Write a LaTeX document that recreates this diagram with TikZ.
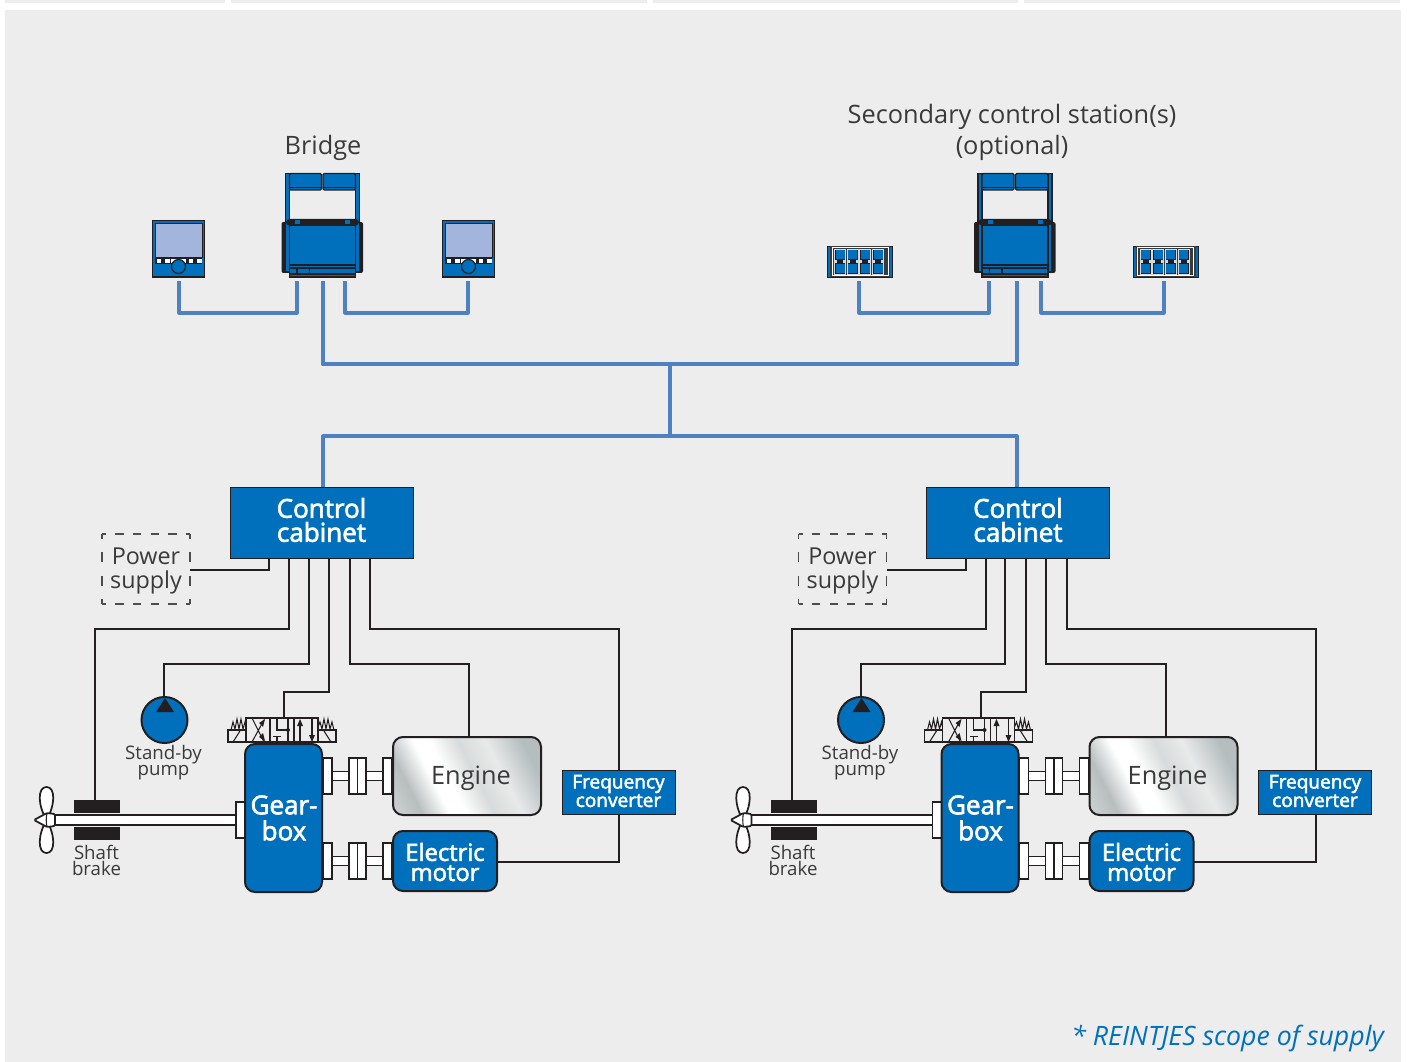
\documentclass[tikz,border=0pt]{standalone}
\usepackage{fontspec}
\setmainfont{Open Sans}
\newfontfamily\semib[FakeBold=2.5]{Open Sans}
\definecolor{panel}{HTML}{EDEDED}
\definecolor{rblue}{HTML}{0070BC}
\definecolor{lineblue}{HTML}{4F81C2}
\definecolor{ink}{HTML}{231F20}
\definecolor{txt}{HTML}{3A3A3C}
\definecolor{screen}{HTML}{A3B5DC}
\definecolor{mA}{HTML}{CDD1D1}
\definecolor{mB}{HTML}{B8BEBE}
\definecolor{mC}{HTML}{D8DBDB}
\definecolor{mD}{HTML}{E8EAEA}
\definecolor{mE}{HTML}{B5BDBE}
\pgfdeclarehorizontalshading{metal}{100bp}{
 color(0bp)=(mB);
 color(17bp)=(mA);
 color(27bp)=(mB);
 color(37bp)=(white);
 color(43bp)=(white);
 color(53bp)=(mC);
 color(63bp)=(mD);
 color(76bp)=(mE);
 color(100bp)=(mE)}
\tikzset{
 x=0.75pt,y=-0.75pt,
 wire/.style={draw=ink,line width=1.5pt,line join=miter},
 bus/.style={draw=lineblue,line width=3pt,line join=round},
 thinbus/.style={draw=lineblue,line width=2.3pt,line join=round},
 pxbox/.style={rectangle,inner sep=0pt,outer sep=0pt},
 flat/.style={pxbox,fill=rblue,draw=ink,line width=0.6pt},
 solid blue/.style={pxbox,fill=rblue,draw=ink,line width=1.5pt,rounded corners=7.5pt},
 part/.style={pxbox,fill=white,draw=ink,line width=1.2pt},
 lab/.style={text=txt,align=center,inner sep=0pt},
 wlab/.style={text=white,align=center,inner sep=0pt},
 bigwhite/.style={font=\fontsize{19.5}{18}\selectfont\semib},
 gearwhite/.style={font=\fontsize{19.5}{19.5}\selectfont\semib},
 motwhite/.style={font=\fontsize{17.8}{15}\selectfont\semib},
 midwhite/.style={font=\fontsize{14.3}{12}\selectfont\semib},
 smalllab/.style={font=\fontsize{14}{12}\selectfont},
 midlab/.style={font=\fontsize{17.5}{18}\selectfont},
 biglab/.style={font=\fontsize{19}{23.2}\selectfont},
 dev/.style={fill=rblue,draw=ink,line width=0.9pt},
 hdash/.style={draw=ink!80,line width=0.9pt,dash pattern=on 6.2pt off 7pt,dash phase=3.1pt},
 vdash/.style={draw=ink!80,line width=0.9pt,dash pattern=on 7.5pt off 10pt,dash phase=3.75pt},
}
% #1 style, #2 name, #3 x1, #4 y1, #5 x2, #6 y2, #7 text
\newcommand{\pxnode}[7]{%
 \node[#1,minimum width={(#5-#3)*0.75pt},minimum height={(#6-#4)*0.75pt}] (#2) at ({(#3+#5)/2},{(#4+#6)/2}) {#7};}
\newcommand{\rct}[5]{\path[#1] (#2,#3) rectangle (#4,#5);}

\newcommand{\coupling}[1]{% #1 = centre y
 \begin{scope}[shift={(0,#1)}]
 \rct{part}{332}{-4.5}{349}{4.5}
 \rct{part}{366}{-4.5}{383}{4.5}
 \rct{part}{323}{-18}{332}{18}
 \rct{part}{349}{-18}{357.5}{18}
 \rct{part}{357.5}{-18}{366}{18}
 \rct{part}{383}{-18}{392}{18}
 \end{scope}}

\newcommand{\spool}{%
 \begin{scope}[line width=0.8pt,draw=ink]
 \draw (246,718) rectangle (318,742);
 \draw (270,718) -- (270,742) (294,718) -- (294,742);
 \draw (228,730) rectangle (246,742);
 \draw (318,730) rectangle (336,742);
 \draw (231,730) -- (233,722) -- (235,729) -- (237,719) -- (239,729) -- (241,719) -- (243,729) -- (245,722) -- (246,727);
 \draw (318,727) -- (320,722) -- (322,729) -- (324,719) -- (326,729) -- (328,719) -- (330,729) -- (332,722) -- (334,730);
 \draw (233,742) -- (240,731);
 \draw (324,731) -- (331,742);
 \draw (252,718) -- (264,742) (264,720) -- (252,742);
 \fill[ink] (265,719) -- (259,723) -- (263,727) -- cycle;
 \fill[ink] (265,741) -- (259,737) -- (263,733) -- cycle;
 \draw (277,718) -- (277,730) -- (288,730) (288,718) -- (288,742);
 \fill[ink] (288,730) circle (2);
 \draw (277,742) -- (277,736.5) (273,736.5) -- (281,736.5);
 \draw (300,742) -- (300,724);
 \fill[ink] (300,719) -- (297,726) -- (303,726) -- cycle;
 \draw (312,718) -- (312,736);
 \fill[ink] (312,742) -- (309,735) -- (315,735) -- cycle;
 \end{scope}}

\newcommand{\driveunit}[2]{% #1 prefix, #2 x shift
 \begin{scope}[shift={(#2,0)}]
 \pxnode{flat}{#1cab}{230}{487}{413}{558}{}
 \node[wlab,bigwhite] (#1cablab) at (321.5,520) {Control\\cabinet};
 \pxnode{pxbox}{#1psu}{102}{534}{190}{604}{}
 \node[lab,midlab] (#1psulab) at (146,571) {Power\\supply};
 \draw[hdash] (#1psu.north west) -- (#1psu.north east);
 \draw[hdash] (#1psu.south west) -- (#1psu.south east);
 \draw[vdash] (#1psu.north west) -- (#1psu.south west);
 \draw[vdash] (#1psu.north east) -- (#1psu.south east);
 \node[circle,minimum size={46*0.75pt},inner sep=0pt,outer sep=0pt,fill=rblue,draw=ink,line width=1.5pt] (#1pump) at (164.5,720) {};
 \fill[ink] (165,698) -- (174,712) -- (156,712) -- cycle;
 \node[lab,smalllab] (#1pumplab) at (163.5,762.5) {Stand-by\\pump};
 % shaft
 \pxnode{part}{#1shaft}{55}{815}{236}{825}{}
 \pxnode{pxbox,fill=ink}{#1brakeA}{74}{800}{120}{813}{}
 \pxnode{pxbox,fill=ink}{#1brakeB}{74}{827}{120}{840}{}
 \node[lab,smalllab] (#1brakelab) at (96.5,860) {Shaft\\brake};
 % propeller
 \path[fill=white,draw=ink,line width=1.3pt] (46.5,820) .. controls (38,806) and (37,787) .. (46.5,787) .. controls (56,787) and (55,806) .. (46.5,820) .. controls (38,834) and (37,853) .. (46.5,853) .. controls (56,853) and (55,834) .. (46.5,820) -- cycle;
 \path[fill=white,draw=ink,line width=1.3pt,rounded corners=1pt] (34,820) -- (47,813) -- (55,814) -- (55,826) -- (47,827) -- cycle;
 \draw[ink,line width=0.8pt] (47,813) .. controls (46,818) and (46,822) .. (47,827);
 % gearbox
 \rct{part}{236}{802}{245}{838}
 \coupling{776}
 \coupling{861}
 \pxnode{solid blue}{#1gear}{245}{744}{322}{892}{}
 \node[wlab,gearwhite] (#1gearlab) at (284,818) {Gear-\\box};
 \pxnode{pxbox,draw=ink,line width=1.5pt,rounded corners=7.5pt,shading=metal,shading angle=27}{#1eng}{393}{737}{541}{815}{}
 \node[lab,font=\fontsize{19}{23}\selectfont] (#1englab) at (471,778) {Engine};
 \pxnode{solid blue}{#1mot}{393}{831}{497}{891}{}
 \node[wlab,motwhite] (#1motlab) at (445,862) {Electric\\motor};
 \pxnode{flat}{#1frq}{562}{770}{675}{814}{}
 \node[wlab,midwhite] (#1frqlab) at (618.5,791) {Frequency\\converter};
 \pxnode{pxbox}{#1vlv}{246}{718}{318}{742}{}
 \spool
 % wiring
 \coordinate (#1t0) at (269,558);
 \coordinate (#1t1) at (289,558);
 \coordinate (#1t2) at (308.5,558);
 \coordinate (#1t3) at (329,558);
 \coordinate (#1t4) at (349.5,558);
 \coordinate (#1t5) at (370,558);
 \coordinate (#1engtop) at (469,737);
 \coordinate (#1frqtop) at (619,770);
 \coordinate (#1frqbot) at (619,814);
 \coordinate (#1psuend) at (190,570);
 \coordinate (#1motend) at (497,862);
 \coordinate (#1pumptop) at (164,697);
 \coordinate (#1vlvtop) at (284,718);
 \coordinate (#1braketop) at (95,800);
 \draw[wire] (#1t0) |- (#1psuend);
 \draw[wire] (#1t1) -- ++(0,70.5) -| (#1braketop);
 \draw[wire] (#1t2) -- ++(0,105.5) -| (#1pumptop);
 \draw[wire] (#1t3) -- ++(0,133.5) -| (#1vlvtop);
 \draw[wire] (#1t4) -- ++(0,105.5) -| (#1engtop);
 \draw[wire] (#1t5) -- ++(0,70.5) -| (#1frqtop);
 \draw[wire] (#1motend) -| (#1frqbot);
 \end{scope}}

\newcommand{\console}[2]{% #1 prefix, #2 x shift
 \begin{scope}[shift={(#2,0)}]
 \path[fill=ink,rounded corners=1.5pt] (281.5,222) rectangle (287,273);
 \path[fill=ink,rounded corners=1.5pt] (357,222) rectangle (363,273);
 \rct{dev}{285.5}{173.5}{289.5}{272}
 \rct{dev}{355.5}{173.5}{359.5}{272}
 \path[dev,rounded corners=1pt] (289.5,173.5) rectangle (321.5,190);
 \path[dev,rounded corners=1pt] (323,173.5) rectangle (355.5,190);
 \draw[ink,line width=0.7pt] (289.5,187.5) -- (321.5,187.5) (323,187.5) -- (355.5,187.5);
 \pxnode{pxbox,fill=rblue,draw=ink,line width=0.9pt}{#1body}{289.5}{225}{355.5}{265}{}
 \path[fill=ink,rounded corners=2.5pt] (286,219) rectangle (359,225.5);
 \rct{fill=rblue}{295}{220}{300}{224.5}
 \rct{fill=rblue}{345}{220}{350}{224.5}
 \rct{dev}{289.5}{265}{355.5}{268}
 \rct{dev}{289.5}{268}{355.5}{274}
 \rct{dev}{289.5}{274}{355.5}{277}
 \rct{dev}{297}{268}{309.5}{273.5}
 \end{scope}}

\newcommand{\screenpanel}[2]{% #1 prefix, #2 x shift
 \begin{scope}[shift={(#2,0)}]
 \pxnode{pxbox,fill=rblue,draw=ink,line width=0.9pt}{#1}{152.5}{220.5}{204.5}{277}{}
 \rct{fill=screen,draw=ink,line width=0.7pt}{155}{223}{202}{257.5}
 \rct{fill=ink}{155}{257.5}{202}{264.5}
 \foreach \bx in {156.5,165,188.5,197}
  {\rct{fill=white}{\bx}{259}{\bx+4.5}{263}}
 \rct{fill=white}{170.5}{259}{186}{263}
 \draw[fill=rblue,draw=ink,line width=0.9pt] (178.5,266.5) circle (7);
 \end{scope}}

\newcommand{\keypanel}[2]{% #1 prefix, #2 x shift
 \begin{scope}[shift={(#2,0)}]
 \pxnode{pxbox,fill=rblue,draw=ink,line width=0.5pt}{#1}{827.5}{246}{892.5}{277}{}
 \rct{fill=txt}{830}{246}{890}{277}
 \rct{draw=white,line width=0.5pt,fill=txt}{832}{247.5}{888}{275.5}
 \foreach \bx in {834.5,847.2,859.8,872.5}{%
  \rct{draw=white!70!gray,line width=0.5pt,fill=ink}{\bx}{249.5}{\bx+11}{274}
  \rct{fill=rblue}{\bx+1}{250.5}{\bx+10}{259.5}
  \rct{fill=rblue}{\bx+1}{264}{\bx+10}{273}
  \rct{fill=white!70!gray}{\bx-0.5}{260.5}{\bx+2.5}{263}
  \rct{fill=white!70!gray}{\bx+8.5}{260.5}{\bx+11.5}{263}
 }
 \end{scope}}

\begin{document}
\begin{tikzpicture}
\useasboundingbox (0,0) rectangle (1407,1062);
\fill[white] (0,0) rectangle (1407,1062);
\foreach \sa/\sb in {5/225,231/647,653/1018,1024/1400}{\fill[panel] (\sa,0) rectangle (\sb,3);}
\fill[panel] (5,10) rectangle (1401,1062);

% top stations
\console{ca}{0}
\console{cb}{692.5}
\screenpanel{pa}{0}
\screenpanel{pb}{290}
\keypanel{ka}{0}
\keypanel{kb}{305.5}
\node[lab,biglab] (bridge) at (323,148) {Bridge};
\node[lab,biglab] (second) at (1012,132.5) {Secondary control station(s)\\(optional)};

% bus taps
\coordinate (b1) at (322.5,281); \coordinate (b2) at (1017,281);
\coordinate (m1) at (670,364.5); \coordinate (m2) at (670,436.5);
\coordinate (s1) at (179,281); \coordinate (s2) at (297,281);
\coordinate (s3) at (345,281); \coordinate (s4) at (468,281);
\coordinate (s5) at (859,281); \coordinate (s6) at (989,281);
\coordinate (s7) at (1041,281); \coordinate (s8) at (1164,281);
\coordinate (cta) at (323,487); \coordinate (ctb) at (1017,487);
\draw[thinbus] (s1) -- ++(0,32) -| (s2);
\draw[thinbus] (s3) -- ++(0,32) -| (s4);
\draw[thinbus] (s5) -- ++(0,32) -| (s6);
\draw[thinbus] (s7) -- ++(0,32) -| (s8);

\driveunit{a}{0}
\driveunit{b}{696.5}

\draw[bus] (b1) |- (m1) -| (b2);
\draw[bus] (m1) -- (m2);
\draw[bus] (cta) |- (m2) -| (ctb);

\node[anchor=east,inner sep=0pt,text=rblue,font=\fontsize{20}{23}\selectfont\itshape] (scope) at (1384,1039) {* REINTJES scope of supply};
\end{tikzpicture}
\end{document}
